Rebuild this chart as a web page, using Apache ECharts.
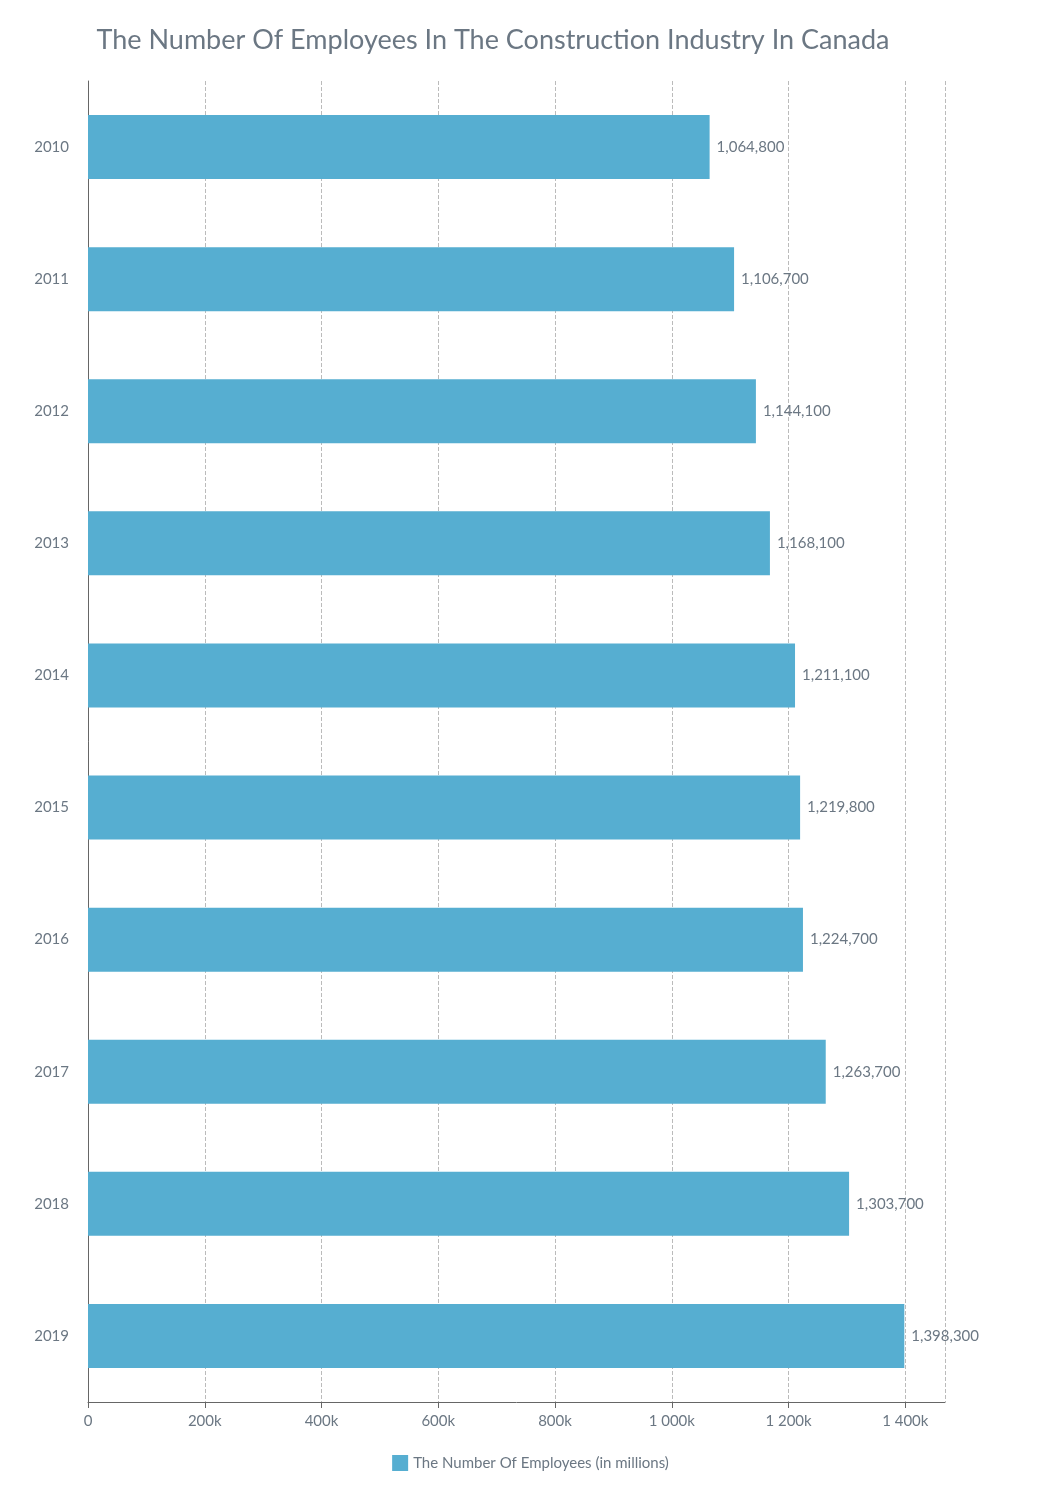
<!DOCTYPE html>
<html><head><meta charset="utf-8">
<script src="https://cdn.jsdelivr.net/npm/echarts@6/dist/echarts.min.js"></script>
<style>html,body{margin:0;background:#fff}#c{width:1061px;height:1500px}</style>
</head><body><div id="c"></div>
<script>
const years = ['2010','2011','2012','2013','2014','2015','2016','2017','2018','2019'];
const employees = [1064800,1106700,1144100,1168100,1211100,1219800,1224700,1263700,1303700,1398300];
const seriesName = 'The Number Of Employees (in millions)';
const titleText = 'The Number Of Employees In The Construction Industry In Canada';
const chart = echarts.init(document.getElementById('c'));
const txt = '#6b7783';
chart.setOption({
  backgroundColor:'#fff',
  textStyle:{fontFamily:'Lato'},
  title:{text:titleText,left:488,textAlign:'center',top:22,textStyle:{fontFamily:'Lato',fontSize:27,fontWeight:'normal',color:'#6b7783'}},
  legend:{bottom:24,left:'center',itemWidth:16,itemHeight:16,icon:'rect',textStyle:{color:txt,fontSize:15,fontFamily:'Lato'},data:[seriesName]},
  grid:{left:88,top:81,width:857,height:1321,containLabel:false},
  xAxis:{type:'value',min:0,max:1468000,interval:200000,
    axisLine:{show:true,lineStyle:{color:'#666'}},axisTick:{show:true,length:6,lineStyle:{color:'#666'}},
    splitLine:{show:true,lineStyle:{type:'dashed',color:'#bbb'}},
    axisLabel:{color:txt,fontSize:15,margin:12,showMaxLabel:false,formatter:v=>{if(v===0)return '0';if(v%200000)return '';const k=v/1000;return (k>=1000?Math.floor(k/1000)+' '+String(k%1000).padStart(3,'0'):k)+'k';}}},
  yAxis:{type:'category',data:years,inverse:true,
    axisLine:{show:true,lineStyle:{color:'#666'}},axisTick:{show:false},
    axisLabel:{color:txt,fontSize:15,margin:19}},
  series:[{name:seriesName,type:'bar',data:employees,barWidth:64,itemStyle:{color:'#56aed1'},
    label:{show:true,position:'right',distance:7,color:txt,fontSize:15,formatter:p=>p.value.toLocaleString('en-US')}}]
});
</script></body></html>
